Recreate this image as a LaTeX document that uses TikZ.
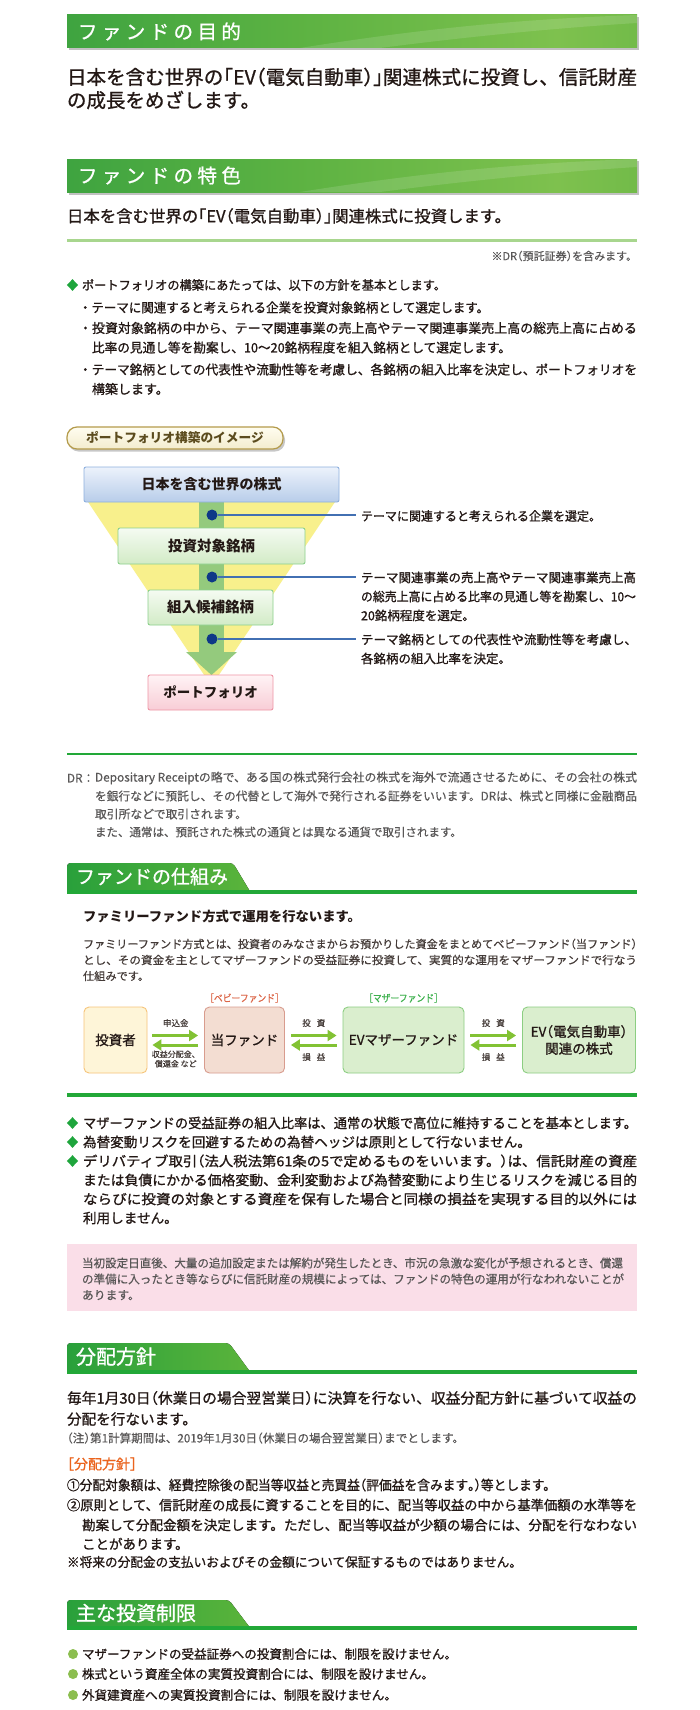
\documentclass[tikz,border=0pt]{standalone}
\usepackage{fontspec}
\usepackage{graphicx}
\setmainfont{Noto Sans CJK JP}
\newfontfamily\md[FakeBold=1]{Noto Sans CJK JP}
\newfontfamily\lt[FakeBold=0.4]{Noto Sans CJK JP}
\usetikzlibrary{calc,arrows.meta}

\definecolor{ink}{RGB}{35,24,21}
\definecolor{gtext}{RGB}{89,87,87}
\definecolor{hA}{RGB}{26,146,62}
\definecolor{hB}{RGB}{92,178,66}
\definecolor{hC}{RGB}{126,193,78}
\definecolor{hD}{RGB}{72,165,56}
\definecolor{tA}{RGB}{16,150,60}
\definecolor{tB}{RGB}{116,190,58}
\definecolor{gline}{RGB}{34,168,56}
\definecolor{lgline}{RGB}{168,214,142}
\definecolor{diam}{RGB}{30,165,60}
\definecolor{yel}{RGB}{248,240,140}
\definecolor{gband}{RGB}{148,202,125}
\definecolor{navy}{RGB}{14,56,135}
\definecolor{leader}{RGB}{66,112,178}
\definecolor{f1T}{RGB}{236,242,251}
\definecolor{f1B}{RGB}{184,205,234}
\definecolor{f1D}{RGB}{142,176,222}
\definecolor{f2T}{RGB}{245,251,242}
\definecolor{f2B}{RGB}{210,235,198}
\definecolor{f2D}{RGB}{140,208,140}
\definecolor{f4T}{RGB}{255,243,245}
\definecolor{f4B}{RGB}{248,205,214}
\definecolor{f4D}{RGB}{238,150,166}
\definecolor{pillT}{RGB}{255,253,240}
\definecolor{pillB}{RGB}{243,236,206}
\definecolor{pillD}{RGB}{180,155,75}
\definecolor{pillX}{RGB}{92,76,30}
\definecolor{invF}{RGB}{254,245,216}
\definecolor{invD}{RGB}{246,196,122}
\definecolor{babF}{RGB}{243,221,210}
\definecolor{babD}{RGB}{216,156,142}
\definecolor{mF}{RGB}{218,238,206}
\definecolor{mD}{RGB}{140,206,130}
\definecolor{arrG}{RGB}{130,194,52}
\definecolor{babyL}{RGB}{220,102,72}
\definecolor{motherL}{RGB}{60,176,76}
\definecolor{pinkF}{RGB}{250,222,232}
\definecolor{orng}{RGB}{235,100,30}
\definecolor{bul}{RGB}{140,190,80}

\pgfdeclarehorizontalshading{hdrshade}{100bp}{color(0bp)=(hA); color(45bp)=(hB); color(68bp)=(hC); color(100bp)=(hD)}
\pgfdeclarehorizontalshading{tabshade}{100bp}{color(0bp)=(tA); color(100bp)=(tB)}

\newcommand\fs[1]{\fontsize{#1pt}{#1pt}\selectfont}
% size, width (0 = natural), text
\newcommand\LN[3]{\fs{#1}\vphantom{漢}\ifdim#2pt=0pt\relax#3\else\resizebox{#2pt}{\height}{#3}\fi}
\newcommand\hp[1]{{\addfontfeatures{RawFeature=+halt}#1}}
\newcommand\hs{\hspace{4.4pt}}
\newcommand\dia[2]{\fill[diam] (#1-5.6,#2) -- (#1,#2-5.8) -- (#1+5.6,#2) -- (#1,#2+5.8) -- cycle;}
\newcommand\tabhdr[4]{%
  \fill[shading=tabshade, rounded corners=3.5pt] (67,#2+3) -- (67,#1) -- (#3,#1) -- (#4,#2+3) -- cycle;
  \fill[gline] (67,#2) rectangle (637,#2+4);}
% header bar: top, bottom
\newcommand\hdrbar[2]{%
  \fill[black!60, opacity=.4] (68.5,#1+2) rectangle (638.5,#2+2.5);
  \fill[shading=hdrshade] (67,#1) rectangle (637,#2);
  \fill[white, opacity=.13] (300,#2) .. controls (420,#1+14) and (520,#1+4) .. (637,#1) -- (637,#1+8) .. controls (540,#1+14) and (450,#1+24) .. (380,#2) -- cycle;}

\tikzset{
  tx/.style={anchor=west, inner sep=0pt, outer sep=0pt, text=ink, font=\md},
  txg/.style={anchor=west, inner sep=0pt, outer sep=0pt, text=gtext, font=\lt},
  txc/.style={anchor=center, inner sep=0pt, outer sep=0pt, text=ink, font=\md},
  hdr/.style={anchor=west, inner sep=0pt, outer sep=0pt, text=white, font=\md},
  fun/.style={draw, line width=0.9pt, rounded corners=2pt, inner sep=0pt, text=ink, font=\bfseries},
  fb/.style={draw, line width=0.9pt, rounded corners=5pt, inner sep=0pt, text=ink, minimum height=66pt},
  dotn/.style={circle, fill=navy, inner sep=0pt, minimum size=11pt},
  lead/.style={draw=leader, line width=1.2pt},
  farrow/.style={draw=arrG, line width=3pt, -{Triangle[length=9pt,width=11pt]}},
  lbl/.style={anchor=center, inner sep=0pt, text=ink!85, align=center, font=\lt\fontsize{8.5pt}{10pt}\selectfont}
}

\begin{document}
\begin{tikzpicture}[x=1pt,y=-1pt]
\useasboundingbox (0,0) rectangle (700,1710);
\fill[white] (0,0) rectangle (700,1710);

% ===== Header 1 =====
\hdrbar{15}{48}
\node[hdr] (h1) at (78,31.5) {\fs{19.5}フ\hs ァ\hs ン\hs ド\hs の\hs 目\hs 的};
\node[tx] (b1a) at (67,77) {\LN{19.5}{570}{日本を含む世界の\hp{「}EV\hp{（}電気自動車\hp{）」}関連株式に投資し、信託財産}};
\node[tx] (b1b) at (67,100) {\LN{19.5}{0}{の成長をめざします。}};

% ===== Header 2 =====
\hdrbar{159}{192}
\node[hdr] (h2) at (78,175.5) {\fs{19.5}フ\hs ァ\hs ン\hs ド\hs の\hs 特\hs 色};
\node[tx] (b2) at (67,216) {\LN{16.3}{444}{日本を含む世界の\hp{「}EV\hp{（}電気自動車\hp{）」}関連株式に投資します。}};
\fill[lgline] (67,238.5) rectangle (637,241.5);
\node[txg, anchor=east] (note1) at (637,256) {\LN{11}{0}{※DR\hp{（}預託証券\hp{）}を含みます。}};

% ===== policy bullets =====
\dia{72.5}{285}
\node[tx] (d1) at (82,285) {\LN{12.5}{364}{ポートフォリオの構築にあたっては、以下の方針を基本とします。}};
\node[tx] (p1) at (79,307.5) {\LN{13}{410}{・テーマに関連すると考えられる企業を投資対象銘柄として選定します。}};
\node[tx] (p2a) at (79,328) {\LN{13}{558}{・投資対象銘柄の中から、テーマ関連事業の売上高やテーマ関連事業売上高の総売上高に占める}};
\node[tx] (p2b) at (92,347.5) {\LN{13}{419}{比率の見通し等を勘案し、10～20銘柄程度を組入銘柄として選定します。}};
\node[tx] (p3a) at (79,369.5) {\LN{13}{558}{・テーマ銘柄としての代表性や流動性等を考慮し、各銘柄の組入比率を決定し、ポートフォリオを}};
\node[tx] (p3b) at (92,389) {\LN{13}{0}{構築します。}};

% ===== pill label =====
\fill[black, opacity=.22, rounded corners=10pt] (68.5,429.5) rectangle (285,451.5);
\node[draw=pillD, line width=1.2pt, rounded corners=10pt, top color=pillT, bottom color=pillB,
      minimum width=216pt, minimum height=22pt, inner sep=0pt, text=pillX, font=\bfseries] (pill) at (175,438) {\fs{12.7}ポートフォリオ構築のイメージ};

% ===== funnel =====
\fill[yel] (88,502) -- (335,502) -- (211.5,686) -- cycle;
\fill[gband] (199,502) rectangle (224,653);
\fill[gband] (186,652) -- (237,652) -- (211.5,675) -- cycle;

\node[fun, draw=f1D, top color=f1T, bottom color=f1B, minimum width=255pt, minimum height=35pt] (fa) at (211.5,484.5) {\fs{14}日本を含む世界の株式};
\node[fun, draw=f2D, top color=f2T, bottom color=f2B, minimum width=187pt, minimum height=36pt] (fb2) at (211.5,546) {\fs{14.5}投資対象銘柄};
\node[fun, draw=f2D, top color=f2T, bottom color=f2B, minimum width=125pt, minimum height=35pt] (fc) at (210.5,607.5) {\fs{14.5}組入候補銘柄};
\node[fun, draw=f4D, top color=f4T, bottom color=f4B, minimum width=125pt, minimum height=35pt] (fd) at (210.5,692.5) {\fs{13.5}ポートフォリオ};

\node[dotn] (dt1) at (212,515) {};
\node[dotn] (dt2) at (212,577) {};
\node[dotn] (dt3) at (212,639) {};
\coordinate (e1) at (356,515);
\coordinate (e2) at (356,577);
\coordinate (e3) at (356,639);
\draw[lead] (dt1) -- (e1);
\draw[lead] (dt2) -- (e2);
\draw[lead] (dt3) -- (e3);

\node[tx] (r1) at (361,516) {\LN{12.5}{240}{テーマに関連すると考えられる企業を選定。}};
\node[tx] (r2a) at (361,577.5) {\LN{12.5}{275}{テーマ関連事業の売上高やテーマ関連事業売上高}};
\node[tx] (r2b) at (361,596.5) {\LN{12.5}{275}{の総売上高に占める比率の見通し等を勘案し、10～}};
\node[tx] (r2c) at (361,615.5) {\LN{12.5}{0}{20銘柄程度を選定。}};
\node[tx] (r3a) at (361,639.5) {\LN{12.5}{276}{テーマ銘柄としての代表性や流動性等を考慮し、}};
\node[tx] (r3b) at (361,658.5) {\LN{12.5}{0}{各銘柄の組入比率を決定。}};

% ===== DR note =====
\fill[gline] (67,753) rectangle (637,755.2);
\node[txg] (dr0) at (67,778) {\LN{11.8}{0}{DR：}};
\node[txg] (dr1) at (95,778) {\LN{11.8}{542}{Depositary Receiptの略で、ある国の株式発行会社の株式を海外で流通させるために、その会社の株式}};
\node[txg] (dr2) at (95,796) {\LN{11.8}{542}{を銀行などに預託し、その代替として海外で発行される証券をいいます。DRは、株式と同様に金融商品}};
\node[txg] (dr3) at (95,814) {\LN{11.8}{0}{取引所などで取引されます。}};
\node[txg] (dr4) at (95,832) {\LN{11.5}{0}{また、通常は、預託された株式の通貨とは異なる通貨で取引されます。}};

% ===== Header 3 =====
\tabhdr{863}{890}{233}{251}
\node[hdr] (h3) at (76,876.5) {\fs{19}ファンドの仕組み};
\node[tx, font=\bfseries] (s1) at (83,917) {\LN{13.2}{278}{ファミリーファンド方式で運用を行ないます。}};
\node[txg, text=ink!85] (s2a) at (83,944) {\LN{11.2}{554}{ファミリーファンド方式とは、投資者のみなさまからお預かりした資金をまとめてベビーファンド\hp{（}当ファンド\hp{）}}};
\node[txg, text=ink!85] (s2b) at (83,960) {\LN{11.2}{554}{とし、その資金を主としてマザーファンドの受益証券に投資して、実質的な運用をマザーファンドで行なう}};
\node[txg, text=ink!85] (s2c) at (83,976) {\LN{11.2}{0}{仕組みです。}};

% ===== flow =====
\node[fb, fill=invF, draw=invD, minimum width=63pt, font=\md] (inv) at (115.5,1040) {\fs{13.5}投資者};
\node[fb, fill=babF, draw=babD, minimum width=80pt, font=\md] (baby) at (244.5,1040) {\fs{13.5}当ファンド};
\node[fb, fill=mF, draw=mD, minimum width=121pt, font=\md] (mother) at (403.5,1040) {\fs{13.5}EVマザーファンド};
\node[fb, fill=mF, draw=mD, minimum width=113pt, align=center, font=\md\fontsize{13.5pt}{17pt}\selectfont] (stock) at (579,1040) {EV\hp{（}電気自動車\hp{）}\\関連の株式};
\node[txc, text=babyL, font=\lt] (lbaby) at (244.5,998) {\LN{10}{70}{\hp{［}ベビーファンド\hp{］}}};
\node[txc, text=motherL, font=\lt] (lmother) at (403.5,998) {\LN{10}{70}{\hp{［}マザーファンド\hp{］}}};

\draw[farrow] ($(inv.east)+(5,-4.5)$) -- ($(baby.west)+(-6,-4.5)$);
\draw[farrow] ($(baby.west)+(-6,5)$) -- ($(inv.east)+(5,5)$);
\draw[farrow] ($(baby.east)+(6,-4.5)$) -- ($(mother.west)+(-6,-4.5)$);
\draw[farrow] ($(mother.west)+(-6,5)$) -- ($(baby.east)+(6,5)$);
\draw[farrow] ($(mother.east)+(6,-4.5)$) -- ($(stock.west)+(-6,-4.5)$);
\draw[farrow] ($(stock.west)+(-6,5)$) -- ($(mother.east)+(6,5)$);

\node[lbl] (l1) at ($(inv.east)!.5!(baby.west)+(0,-17)$) {申込金};
\node[lbl, font=\lt\fontsize{8pt}{9.5pt}\selectfont] (l2) at ($(inv.east)!.5!(baby.west)+(0,19)$) {収益分配金、\\償還金 など};
\node[lbl] (l3) at ($(baby.east)!.5!(mother.west)+(0,-17)$) {投\hspace{6pt}資};
\node[lbl] (l4) at ($(baby.east)!.5!(mother.west)+(0,17)$) {損\hspace{6pt}益};
\node[lbl] (l5) at ($(mother.east)!.5!(stock.west)+(0,-17)$) {投\hspace{6pt}資};
\node[lbl] (l6) at ($(mother.east)!.5!(stock.west)+(0,17)$) {損\hspace{6pt}益};

\fill[gline] (67,1093) rectangle (637,1096.5);

% ===== mother fund bullets =====
\dia{72.5}{1123}
\dia{72.5}{1142}
\dia{72.5}{1161}
\node[tx] (m1) at (83,1123) {\LN{13.6}{554}{マザーファンドの受益証券の組入比率は、通常の状態で高位に維持することを基本とします。}};
\node[tx] (m2) at (83,1142) {\LN{13.6}{0}{為替変動リスクを回避するための為替ヘッジは原則として行ないません。}};
\node[tx] (m3a) at (83,1161) {\LN{13.6}{554}{デリバティブ取引\hp{（}法人税法第61条の5で定めるものをいいます。\hp{）}は、信託財産の資産}};
\node[tx] (m3b) at (83,1180) {\LN{13.6}{554}{または負債にかかる価格変動、金利変動および為替変動により生じるリスクを減じる目的}};
\node[tx] (m3c) at (83,1199) {\LN{13.6}{554}{ならびに投資の対象とする資産を保有した場合と同様の損益を実現する目的以外には}};
\node[tx] (m3d) at (83,1218) {\LN{13.6}{0}{利用しません。}};

% ===== pink box =====
\fill[pinkF] (67,1244) rectangle (637,1311);
\node[txg] (k1) at (82,1263) {\LN{11.8}{541}{当初設定日直後、大量の追加設定または解約が発生したとき、市況の急激な変化が予想されるとき、償還}};
\node[txg] (k2) at (82,1279) {\LN{11.8}{542}{の準備に入ったとき等ならびに信託財産の規模によっては、ファンドの特色の運用が行なわれないことが}};
\node[txg] (k3) at (82,1295) {\LN{11.8}{0}{あります。}};

% ===== Header 4 =====
\tabhdr{1343}{1370}{229}{251}
\node[hdr] (h4) at (76,1356.5) {\fs{20}分配方針};
\node[tx] (q1a) at (67,1398) {\LN{14.6}{570}{毎年1月30日\hp{（}休業日の場合翌営業日\hp{）}に決算を行ない、収益分配方針に基づいて収益の}};
\node[tx] (q1b) at (67,1419) {\LN{14.6}{0}{分配を行ないます。}};
\node[txg] (q2) at (67,1438) {\LN{11.6}{397}{\hp{（}注\hp{）}第1計算期間は、2019年1月30日\hp{（}休業日の場合翌営業日\hp{）}までとします。}};
\node[tx, text=orng] (q3) at (67,1464) {\LN{14}{0}{\hp{［}分配方針\hp{］}}};
\node[tx] (q4) at (67,1485) {\LN{13.5}{489}{①分配対象額は、経費控除後の配当等収益と売買益\hp{（}評価益を含みます\hp{。）}等とします。}};
\node[tx] (q5a) at (67,1505) {\LN{13.5}{570}{②原則として、信託財産の成長に資することを目的に、配当等収益の中から基準価額の水準等を}};
\node[tx] (q5b) at (82,1525) {\LN{13.5}{555}{勘案して分配金額を決定します。ただし、配当等収益が少額の場合には、分配を行なわない}};
\node[tx] (q5c) at (82,1544) {\LN{13.5}{0}{ことがあります。}};
\node[tx] (q6) at (67,1562) {\LN{13}{455}{※将来の分配金の支払いおよびその金額について保証するものではありません。}};

% ===== Header 5 =====
\tabhdr{1600}{1626}{229}{251}
\node[hdr] (h5) at (76,1613) {\fs{20}主な投資制限};
\fill[bul] (73,1654) circle[radius=5pt];
\fill[bul] (73,1674) circle[radius=5pt];
\fill[bul] (73,1695) circle[radius=5pt];
\node[tx] (z1) at (82,1654) {\LN{12.6}{375}{マザーファンドの受益証券への投資割合には、制限を設けません。}};
\node[tx] (z2) at (82,1674) {\LN{12.6}{352}{株式という資産全体の実質投資割合には、制限を設けません。}};
\node[tx] (z3) at (82,1695) {\LN{12.6}{315}{外貨建資産への実質投資割合には、制限を設けません。}};
\end{tikzpicture}
\end{document}
